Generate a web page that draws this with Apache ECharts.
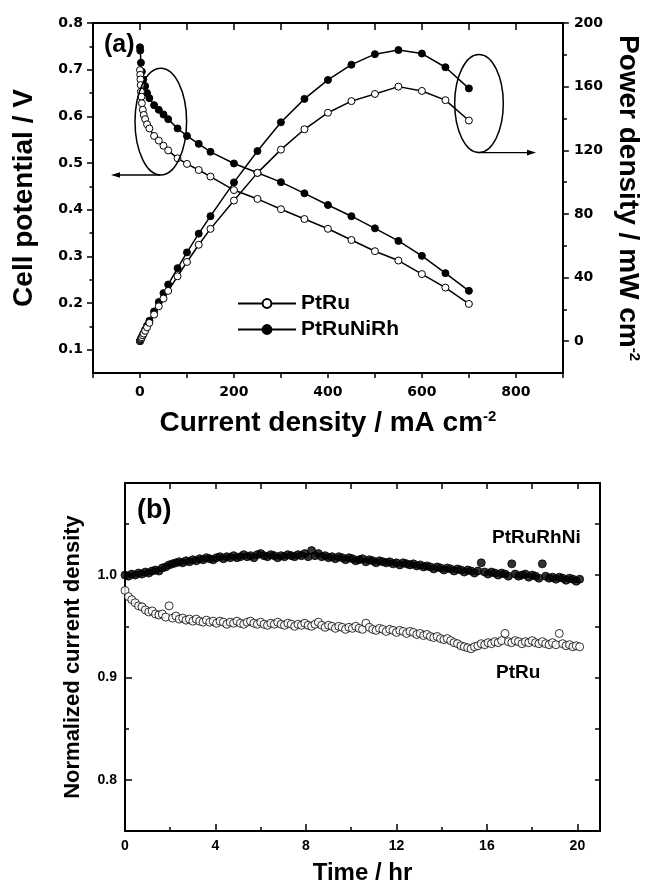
<!DOCTYPE html>
<html>
<head>
<meta charset="utf-8">
<script src="https://cdn.jsdelivr.net/npm/echarts@6/dist/echarts.min.js"></script>
<style>
html,body{margin:0;padding:0;background:#fff;}
#chart{width:650px;height:886px;}
</style>
</head>
<body>
<div id="chart"></div>
<script>
// ---------- (a) polarization data ----------
const ptruCurrent = [0, 0.5, 1, 1.5, 2, 3, 4, 6, 8, 11, 15, 20, 30, 40, 50, 60, 80, 100, 125, 150, 200, 250, 300, 350, 400, 450, 500, 550, 600, 650, 700];
const ptruPotential = [0.699, 0.689, 0.679, 0.667, 0.653, 0.642, 0.628, 0.614, 0.603, 0.594, 0.583, 0.574, 0.558, 0.548, 0.537, 0.527, 0.510, 0.498, 0.485, 0.471, 0.442, 0.423, 0.401, 0.380, 0.359, 0.335, 0.311, 0.291, 0.262, 0.233, 0.198];
const ptruPower = [0, 0.3, 0.7, 1.0, 1.3, 1.9, 2.5, 3.7, 4.8, 6.5, 8.7, 11.5, 16.7, 21.9, 26.8, 31.6, 40.8, 49.8, 60.6, 70.6, 88.4, 105.8, 120.4, 133.2, 143.6, 150.9, 155.4, 160.0, 157.3, 151.5, 138.7];

const niCurrent = [0, 0.5, 2, 4, 7, 11, 15, 20, 30, 40, 50, 60, 80, 100, 125, 150, 200, 250, 300, 350, 400, 450, 500, 550, 600, 650, 700];
const niPotential = [0.748, 0.741, 0.715, 0.696, 0.679, 0.665, 0.650, 0.639, 0.624, 0.614, 0.604, 0.594, 0.574, 0.558, 0.541, 0.524, 0.499, 0.479, 0.459, 0.435, 0.410, 0.386, 0.360, 0.333, 0.301, 0.264, 0.226];
const niPower = [0, 0.4, 1.4, 2.8, 4.8, 7.3, 9.8, 12.8, 18.7, 24.6, 30.2, 35.6, 45.9, 55.8, 67.6, 78.6, 99.8, 119.5, 137.6, 152.3, 164.2, 173.8, 180.4, 183.0, 180.8, 172.2, 158.9];

const xTickLabelsA = [0, 200, 400, 600, 800];
const yTickLabelsA = [0.1, 0.2, 0.3, 0.4, 0.5, 0.6, 0.7, 0.8];
const y2TickLabelsA = [0, 40, 80, 120, 160, 200];

// ---------- (b) stability data (sampled every 0.15 h) ----------
const timeStepHr = 0.15;
const rhniNormalized = [
1.000,0.999,1.001,1.000,1.002,1.001,1.003,1.002,1.004,1.005,
1.004,1.007,1.008,1.010,1.011,1.012,1.013,1.012,1.014,1.013,
1.015,1.014,1.016,1.015,1.017,1.016,1.015,1.017,1.018,1.016,
1.018,1.017,1.019,1.017,1.018,1.020,1.018,1.019,1.017,1.020,
1.021,1.019,1.018,1.020,1.019,1.017,1.019,1.018,1.020,1.019,
1.018,1.020,1.019,1.021,1.018,1.024,1.019,1.021,1.018,1.019,
1.017,1.018,1.016,1.018,1.017,1.015,1.017,1.016,1.014,1.015,
1.016,1.013,1.015,1.014,1.012,1.014,1.013,1.012,1.013,1.011,
1.012,1.010,1.012,1.011,1.010,1.011,1.009,1.010,1.008,1.009,
1.008,1.006,1.008,1.007,1.005,1.007,1.006,1.004,1.006,1.005,
1.003,1.005,1.004,1.002,1.004,1.012,1.003,1.001,1.003,1.002,
1.000,1.002,1.001,0.999,1.011,1.001,0.999,1.000,1.001,0.998,
1.000,0.999,0.997,1.011,0.999,0.997,0.998,0.996,0.998,0.997,
0.995,0.997,0.996,0.994,0.996];
const ptruNormalized = [
0.985,0.979,0.976,0.973,0.970,0.969,0.966,0.964,0.965,0.962,
0.961,0.962,0.959,0.970,0.958,0.960,0.957,0.958,0.956,0.957,
0.955,0.957,0.955,0.954,0.956,0.954,0.955,0.953,0.955,0.954,
0.952,0.954,0.953,0.955,0.953,0.952,0.954,0.955,0.953,0.952,
0.954,0.952,0.951,0.953,0.952,0.954,0.952,0.951,0.953,0.952,
0.950,0.952,0.951,0.953,0.951,0.950,0.952,0.954,0.951,0.949,
0.951,0.950,0.948,0.950,0.949,0.947,0.949,0.948,0.950,0.948,
0.947,0.953,0.949,0.947,0.946,0.948,0.947,0.945,0.947,0.946,
0.944,0.946,0.945,0.943,0.945,0.944,0.942,0.943,0.941,0.942,
0.940,0.939,0.940,0.938,0.937,0.938,0.936,0.934,0.933,0.931,
0.930,0.929,0.928,0.930,0.931,0.933,0.932,0.934,0.933,0.935,
0.934,0.936,0.943,0.935,0.934,0.936,0.935,0.933,0.935,0.934,
0.936,0.934,0.933,0.935,0.933,0.932,0.934,0.932,0.943,0.933,
0.931,0.932,0.930,0.931,0.930];
const xTickLabelsB = [0, 4, 8, 12, 16, 20];
const yTickLabelsB = [0.8, 0.9, 1.0];

// ---------- styling helpers ----------
const BLACK = '#000';
const fontA = 'DejaVu Sans';
const fontT = 'Liberation Sans';

function pair(xs, ys) { return xs.map((x, i) => [x, ys[i]]); }
function timed(ys) { return ys.map((y, i) => [+(i * timeStepHr).toFixed(2), y]); }

function axis(o) {
  const a = {
    type: 'value',
    gridIndex: o.grid,
    position: o.pos,
    min: o.min, max: o.max, interval: o.interval,
    axisLine: { show: o.line !== false, onZero: false, lineStyle: { color: BLACK, width: 2 } },
    axisTick: { show: true, inside: !!o.inside, length: o.tickLen || 5, lineStyle: { color: BLACK, width: 1.5 } },
    axisLabel: { show: false },
    splitLine: { show: false },
    silent: true
  };
  if (o.ticks) a.axisTick.customValues = o.ticks;
  if (o.labels) {
    a.axisLabel = {
      show: true, customValues: o.labels, margin: o.margin,
      color: BLACK, fontFamily: o.font, fontWeight: 'bold', fontSize: o.fontSize,
      formatter: o.fmt
    };
  }
  if (o.name) {
    a.name = o.name;
    a.nameLocation = 'middle';
    a.nameGap = o.nameGap;
    if (o.nameRotate !== undefined) a.nameRotate = o.nameRotate;
    a.nameTextStyle = {
      rich: {
        t: { fontFamily: fontT, fontWeight: 'bold', fontSize: o.nameSize, color: BLACK },
        s: { fontFamily: fontT, fontWeight: 'bold', fontSize: 15, color: BLACK, verticalAlign: 'top' }
      }
    };
  }
  return a;
}

const openItem = { color: '#fff', borderColor: BLACK, borderWidth: 1 };
const fillItem = { color: BLACK, borderColor: BLACK, borderWidth: 1 };
const lineSt = { color: BLACK, width: 1.5 };

const chart = echarts.init(document.getElementById('chart'), null, { renderer: 'canvas' });

const option = {
  backgroundColor: '#fff',
  animation: false,
  grid: [
    { left: 93, top: 23, width: 475, height: 350 },
    { left: 125, top: 483, width: 475, height: 348 }
  ],
  legend: {
    data: ['PtRu', 'PtRuNiRh'],
    orient: 'vertical',
    left: 232, top: 288,
    itemWidth: 58, itemHeight: 11, itemGap: 5,
    textStyle: { fontFamily: fontT, fontWeight: 'bold', fontSize: 21, color: BLACK },
    selectedMode: false
  },
  xAxis: [
    axis({ grid: 0, pos: 'bottom', min: -100, max: 900, interval: 100, tickLen: 5,
      labels: xTickLabelsA, margin: 12, font: fontA, fontSize: 14,
      name: '{t|Current density / mA cm}{s|-2}', nameGap: 36, nameSize: 28 }),
    axis({ grid: 0, pos: 'top', min: -100, max: 900, interval: 100, inside: true, tickLen: 7 }),
    axis({ grid: 1, pos: 'bottom', min: 0, max: 21, interval: 2, inside: true, tickLen: 7,
      ticks: xTickLabelsB, labels: xTickLabelsB, margin: 8, font: fontT, fontSize: 14,
      name: '{t|Time / hr}', nameGap: 30, nameSize: 24 }),
    axis({ grid: 1, pos: 'bottom', min: 0, max: 21, interval: 2, inside: true, tickLen: 4, line: false,
      ticks: [2, 6, 10, 14, 18] }),
    axis({ grid: 1, pos: 'top', min: 0, max: 21, interval: 2, inside: true, tickLen: 6,
      ticks: [2, 4, 6, 8, 10, 12, 14, 16, 18, 20] })
  ],
  yAxis: [
    axis({ grid: 0, pos: 'left', min: 0.05, max: 0.8, interval: 0.05, tickLen: 6,
      ticks: yTickLabelsA, labels: yTickLabelsA, margin: 10, font: fontA, fontSize: 14,
      fmt: v => v.toFixed(1),
      name: '{t|Cell potential / V}', nameGap: 55, nameSize: 28 }),
    axis({ grid: 0, pos: 'right', min: -20, max: 200, interval: 20, tickLen: 6,
      ticks: y2TickLabelsA, labels: y2TickLabelsA, margin: 11, font: fontA, fontSize: 14,
      name: '{t|Power density / mW cm}{s|-2}', nameGap: 46, nameSize: 28, nameRotate: -90 }),
    axis({ grid: 0, pos: 'left', min: 0.05, max: 0.8, interval: 0.05, tickLen: 3.5, line: false,
      ticks: [0.15, 0.25, 0.35, 0.45, 0.55, 0.65, 0.75] }),
    axis({ grid: 0, pos: 'right', min: -20, max: 200, interval: 20, tickLen: 4, line: false,
      ticks: [20, 60, 100, 140, 180] }),
    axis({ grid: 1, pos: 'left', min: 0.75, max: 1.09, interval: 0.05, inside: true, tickLen: 7,
      ticks: yTickLabelsB, labels: yTickLabelsB, margin: 8, font: fontT, fontSize: 14,
      fmt: v => v.toFixed(1),
      name: '{t|Normalized current density}', nameGap: 41, nameSize: 22 }),
    axis({ grid: 1, pos: 'left', min: 0.75, max: 1.09, interval: 0.05, inside: true, tickLen: 4, line: false,
      ticks: [0.85, 0.95, 1.05] }),
    axis({ grid: 1, pos: 'right', min: 0.75, max: 1.09, interval: 0.05, inside: true, tickLen: 5,
      ticks: [0.8, 0.85, 0.9, 0.95, 1.0, 1.05] })
  ],
  series: [
    { name: 'PtRu', type: 'line', xAxisIndex: 0, yAxisIndex: 0, data: pair(ptruCurrent, ptruPotential),
      symbol: 'circle', symbolSize: 7, itemStyle: openItem, lineStyle: lineSt, z: 3 },
    { name: 'PtRuNiRh', type: 'line', xAxisIndex: 0, yAxisIndex: 0, data: pair(niCurrent, niPotential),
      symbol: 'circle', symbolSize: 7, itemStyle: fillItem, lineStyle: lineSt, z: 2 },
    { name: 'PtRu', type: 'line', xAxisIndex: 0, yAxisIndex: 1, data: pair(ptruCurrent, ptruPower),
      symbol: 'circle', symbolSize: 7, itemStyle: openItem, lineStyle: lineSt, z: 3 },
    { name: 'PtRuNiRh', type: 'line', xAxisIndex: 0, yAxisIndex: 1, data: pair(niCurrent, niPower),
      symbol: 'circle', symbolSize: 7, itemStyle: fillItem, lineStyle: lineSt, z: 2 },
    { name: 'PtRuRhNi (b)', type: 'scatter', xAxisIndex: 2, yAxisIndex: 4, data: timed(rhniNormalized),
      symbol: 'circle', symbolSize: 8, itemStyle: fillItem },
    { name: 'PtRu (b)', type: 'scatter', xAxisIndex: 2, yAxisIndex: 4, data: timed(ptruNormalized),
      symbol: 'circle', symbolSize: 8, itemStyle: openItem }
  ],
  graphic: [
    { type: 'text', left: 104, top: 33, style: { text: '(a)', fontFamily: fontT, fontWeight: 'bold', fontSize: 25, fill: BLACK } },
    { type: 'text', left: 137, top: 497, style: { text: '(b)', fontFamily: fontT, fontWeight: 'bold', fontSize: 27, fill: BLACK } },
    { type: 'text', left: 492, top: 528, style: { text: 'PtRuRhNi', fontFamily: fontT, fontWeight: 'bold', fontSize: 19, fill: BLACK } },
    { type: 'text', left: 496, top: 663, style: { text: 'PtRu', fontFamily: fontT, fontWeight: 'bold', fontSize: 19, fill: BLACK } },
    { type: 'ellipse', shape: { cx: 160.8, cy: 121.6, rx: 25.8, ry: 53.4 }, style: { fill: 'none', stroke: BLACK, lineWidth: 1.5 }, z: 10 },
    { type: 'line', shape: { x1: 160, y1: 175, x2: 115, y2: 175 }, style: { stroke: BLACK, lineWidth: 1.3 }, z: 10 },
    { type: 'polygon', shape: { points: [[111, 175], [120, 172.2], [120, 177.8]] }, style: { fill: BLACK }, z: 10 },
    { type: 'ellipse', shape: { cx: 479, cy: 103.6, rx: 24.3, ry: 49 }, style: { fill: 'none', stroke: BLACK, lineWidth: 1.5 }, z: 10 },
    { type: 'line', shape: { x1: 479, y1: 152.6, x2: 532, y2: 152.6 }, style: { stroke: BLACK, lineWidth: 1.3 }, z: 10 },
    { type: 'polygon', shape: { points: [[536, 152.6], [527, 149.8], [527, 155.4]] }, style: { fill: BLACK }, z: 10 }
  ]
};
chart.setOption(option);
</script>
</body>
</html>
